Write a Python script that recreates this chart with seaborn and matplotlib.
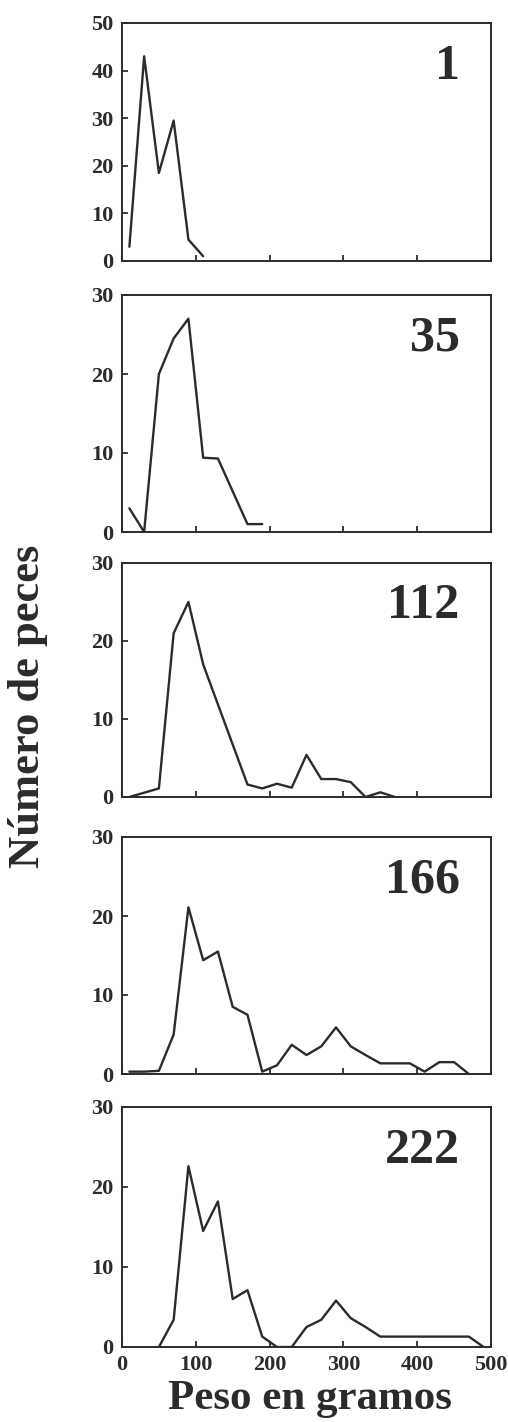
import numpy as np
import pandas as pd
import seaborn as sns
from matplotlib import pyplot as plt

# peso (g) vs numero de peces, one panel per day
dias = ["1", "35", "112", "166", "222"]

peso_1 = [10, 30, 50, 70, 90, 110]
peces_1 = [3, 43, 18.5, 29.5, 4.5, 1]

peso_35 = [10, 30, 50, 70, 90, 110, 130, 170, 190]
peces_35 = [3, 0, 20, 24.5, 27, 9.4, 9.3, 1, 1]

peso_112 = [10, 50, 70, 90, 110, 170, 190, 210, 230, 250, 270, 290, 310, 330, 350, 370]
peces_112 = [0, 1.1, 21, 25, 17, 1.6, 1.1, 1.7, 1.2, 5.4, 2.3, 2.3, 1.9, 0, 0.6, 0]

peso_166 = [10, 30, 50, 70, 90, 110, 130, 150, 170, 190, 210, 230, 250, 270, 290,
            310, 330, 350, 370, 390, 410, 430, 450, 470]
peces_166 = [0.3, 0.3, 0.4, 5, 21.1, 14.4, 15.5, 8.5, 7.5, 0.3, 1.1, 3.7, 2.4, 3.5, 5.9,
             3.5, 2.4, 1.35, 1.35, 1.35, 0.3, 1.5, 1.5, 0]

peso_222 = [50, 70, 90, 110, 130, 150, 170, 190, 210, 230, 250, 270, 290, 310, 330,
            350, 370, 390, 410, 430, 450, 470, 490]
peces_222 = [0, 3.4, 22.6, 14.5, 18.2, 6.0, 7.1, 1.3, 0, 0, 2.5, 3.4, 5.8, 3.6, 2.5,
             1.3, 1.3, 1.3, 1.3, 1.3, 1.3, 1.3, 0]

pesos = [peso_1, peso_35, peso_112, peso_166, peso_222]
peces = [peces_1, peces_35, peces_112, peces_166, peces_222]
ymax = [50, 30, 30, 30, 30]
x_ticks = [0, 100, 200, 300, 400, 500]

df = pd.concat(
    [pd.DataFrame({"dia": d, "peso": p, "peces": n}) for d, p, n in zip(dias, pesos, peces)],
    ignore_index=True,
)

sns.set_style("white")
plt.rcParams["font.family"] = ["Liberation Serif", "DejaVu Serif"]
plt.rcParams["font.weight"] = "bold"

ink = "#2b2b2b"
W, H = 508, 1422
fig = plt.figure(figsize=(W / 100, H / 100), dpi=100)

# panel boxes in pixels: (top, bottom)
boxes = [(23, 261), (295, 532), (563, 797), (837, 1074), (1107, 1347)]
left_px, right_px = 122, 491

for i, (dia, (top, bot)) in enumerate(zip(dias, boxes)):
    ax = fig.add_axes([left_px / W, 1 - bot / H, (right_px - left_px) / W, (bot - top) / H])
    sub = df[df["dia"] == dia]
    sns.lineplot(data=sub, x="peso", y="peces", ax=ax, color=ink, lw=1.7,
                 estimator=None, sort=False)
    ax.set_xlim(0, 500)
    ax.set_ylim(0, ymax[i])
    ax.set_yticks(np.arange(0, ymax[i] + 1, 10))
    ax.set_xticks(x_ticks)
    ax.set_xlabel("")
    ax.set_ylabel("")
    for s in ax.spines.values():
        s.set_linewidth(1.4)
        s.set_color(ink)
    ax.tick_params(direction="in", length=4, width=1.3, color=ink,
                   labelsize=16, labelcolor=ink, pad=6,
                   top=False, right=False, left=True, bottom=True)
    if i < len(dias) - 1:
        ax.tick_params(labelbottom=False)
    for lab in ax.get_xticklabels() + ax.get_yticklabels():
        lab.set_fontweight("bold")
    ax.text(0.915, 0.815, dia, transform=ax.transAxes, ha="right", va="center",
            fontsize=36, fontweight="bold", color=ink)

fig.text(28 / W, 1 - 706 / H, "Número de peces", rotation=90, ha="center", va="center",
         fontsize=32, fontweight="bold", color=ink)
fig.text(310 / W, 1 - 1409 / H, "Peso en gramos", ha="center", va="baseline",
         fontsize=31, fontweight="bold", color=ink)

fig.savefig("out.png", dpi=100, facecolor="white")
